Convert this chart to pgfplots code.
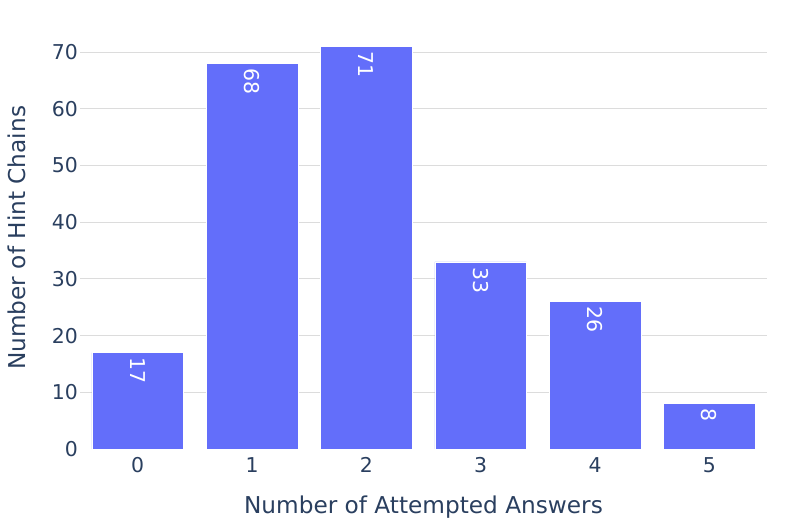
\documentclass[border=0pt]{standalone}
\usepackage{pgfplots}
\pgfplotsset{compat=1.18}
\usepackage{fontspec}
\setmainfont{DejaVu Sans}
\definecolor{barblue}{HTML}{636EFA}
\definecolor{txt}{HTML}{2A3F5F}
\definecolor{gridc}{HTML}{DCDCDC}
\begin{document}
\begin{tikzpicture}
\begin{axis}[
  scale only axis,
  width=686bp, height=422.4bp,
  xmin=-0.5, xmax=5.5, ymin=0, ymax=74.5,
  axis line style={draw=none},
  major tick style={draw=none},
  xtick={0,1,2,3,4,5},
  ytick={0,10,20,30,40,50,60,70},
  extra y ticks={10,20,30,40,50,60,70},
  extra y tick labels={},
  extra y tick style={grid=major},
  grid style={gridc, line width=1bp},
  /pgf/number format/assume math mode=true,
  tick label style={font=\fontsize{20.5}{24}\selectfont, text=txt},
  xticklabel style={yshift=-5bp},
  yticklabel style={xshift=1bp},
  xlabel={Number of Attempted Answers},
  ylabel={Number of Hint Chains},
  label style={font=\fontsize{23.3}{28}\selectfont, text=txt},
  xlabel style={at={(axis description cs:0.5,0)}, anchor=center, yshift=-58bp},
  ylabel style={at={(axis description cs:0,0.5)}, anchor=center, yshift=64bp},
  clip=false,
]
\addplot[ybar, bar width=91.5bp, fill=barblue, draw=white, line width=0.5bp,
  nodes near coords,
  every node near coord/.append style={rotate=-90, anchor=west, text=white,
    font=\fontsize{20.5}{24}\selectfont, inner sep=5bp}]
  coordinates {(0,17) (1,68) (2,71) (3,33) (4,26) (5,8)};
\end{axis}
\path[use as bounding box] (-80.5bp,-80bp) rectangle (712.5bp,449bp);
\end{tikzpicture}
\end{document}
